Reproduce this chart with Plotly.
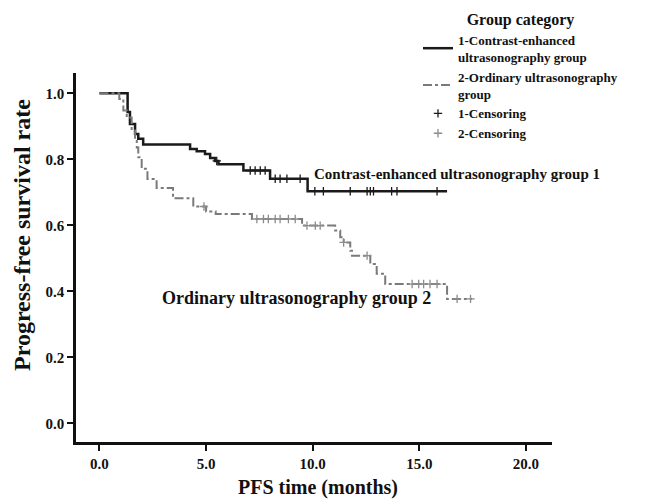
import numpy as np
import plotly.graph_objects as go

# ---- data ----
times1 = [0, 1.32, 1.43, 1.67, 1.82, 2.05, 4.25, 4.56, 4.95, 5.19, 5.42, 5.58, 6.75, 8.0, 9.76]
surv1 = [1.0, 0.943, 0.907, 0.877, 0.862, 0.845, 0.831, 0.824, 0.816, 0.804, 0.795, 0.785, 0.766, 0.741, 0.703]
end1 = 16.3
censor1 = [5.5, 7.07, 7.3, 7.54, 7.77, 8.24, 8.47, 8.79, 9.41, 10.1, 10.5, 11.76, 12.55, 12.7,
           12.85, 13.7, 13.95, 15.83]

times2 = [0, 0.93, 1.12, 1.28, 1.51, 1.67, 1.75, 1.82, 1.98, 2.25, 2.68, 3.45, 4.4, 5.0, 5.45,
          7.15, 9.5, 11.05, 11.29, 11.45, 11.76, 11.84, 12.7, 13.0, 13.4, 16.3]
surv2 = [1.0, 0.983, 0.948, 0.927, 0.887, 0.862, 0.836, 0.806, 0.771, 0.740, 0.713, 0.682, 0.657,
         0.642, 0.634, 0.619, 0.599, 0.584, 0.564, 0.548, 0.523, 0.508, 0.483, 0.453, 0.422, 0.377]
end2 = 17.47
censor2 = [4.9, 7.38, 7.69, 7.92, 8.24, 8.47, 8.86, 9.18, 9.73, 10.12, 10.35, 11.45, 12.55,
           14.66, 14.97, 15.2, 15.5, 15.83, 16.77, 17.4]

x_ticks = [0, 5, 10, 15, 20]
x_ticklabels = ["0.0", "5.0", "10.0", "15.0", "20.0"]
y_ticks = [0, 0.2, 0.4, 0.6, 0.8, 1.0]
y_ticklabels = ["0.0", "0.2", "0.4", "0.6", "0.8", "1.0"]

names = ["1-Contrast-enhanced<br>ultrasonography group",
         "2-Ordinary ultrasonography<br>group",
         "1-Censoring", "2-Censoring"]
labels = ["Contrast-enhanced ultrasonography group 1", "Ordinary ultrasonography group 2"]


def step_value(times, surv, t):
    idx = np.searchsorted(np.array(times), np.array(t), side="right") - 1
    return list(np.array(surv)[idx])


FONT = "Liberation Serif, Times New Roman, serif"
C1 = "#1a1a1a"
C2 = "#7a7a7a"
C2c = "#8c8c8c"

fig = go.Figure()
fig.add_trace(go.Scatter(x=times1 + [end1], y=surv1 + [surv1[-1]], mode="lines",
                         line=dict(shape="hv", color=C1, width=2.5), name=names[0]))
fig.add_trace(go.Scatter(x=times2 + [end2], y=surv2 + [surv2[-1]], mode="lines",
                         line=dict(shape="hv", color=C2, width=2, dash="dashdot"), name=names[1]))
fig.add_trace(go.Scatter(x=censor1, y=step_value(times1, surv1, censor1), mode="markers",
                         marker=dict(symbol="cross-thin", size=6, line=dict(width=1.3, color=C1)),
                         name=names[2]))
fig.add_trace(go.Scatter(x=censor2, y=step_value(times2, surv2, censor2), mode="markers",
                         marker=dict(symbol="cross-thin", size=6, line=dict(width=1.3, color=C2c)),
                         name=names[3]))

fig.add_annotation(x=9.98, y=0.755, xref="x", yref="y", text="<b>" + labels[0] + "</b>",
                   showarrow=False, xanchor="left", yanchor="middle",
                   font=dict(family=FONT, size=15, color="#111"))
fig.add_annotation(x=2.84, y=0.38, xref="x", yref="y", text="<b>" + labels[1] + "</b>",
                   showarrow=False, xanchor="left", yanchor="middle",
                   font=dict(family=FONT, size=18, color="#111"))

# page offset (html body margin) in pixels
OFF = 8
# axis titles (positions given in page pixels)
fig.add_annotation(x=318, y=487, xref="paper", yref="paper", text="<b>PFS time (months)</b>",
                   showarrow=False, xanchor="center", yanchor="middle",
                   font=dict(family=FONT, size=20, color="#111"))
fig.add_annotation(x=22, y=235, xref="paper", yref="paper", text="<b>Progress-free survival rate</b>",
                   showarrow=False, textangle=-90, xanchor="center", yanchor="middle",
                   font=dict(family=FONT, size=24, color="#111"))

W, H = 660 - OFF, 499 - OFF
L, T = 76 - OFF, 73 - OFF
pw, ph = 476, 369
R, B = W - L - pw, H - T - ph
for a in fig.layout.annotations[2:]:
    a.x = (a.x - OFF - L) / pw
    a.y = (H - (a.y - OFF) - B) / ph

axis_common = dict(showline=True, linecolor="#111", linewidth=2.5, ticks="outside",
                   ticklen=6, tickwidth=2, tickcolor="#111", showgrid=False, zeroline=False,
                   tickfont=dict(family=FONT, size=15, color="#111", weight="bold"))

fig.update_xaxes(range=[-1.10, 21.22], tickvals=x_ticks, ticktext=x_ticklabels, **axis_common)
fig.update_yaxes(range=[-0.0567, 1.0615], tickvals=y_ticks, ticktext=y_ticklabels, **axis_common)

fig.update_layout(
    width=W, height=H,
    margin=dict(l=L, r=R, t=T, b=B, autoexpand=False),
    plot_bgcolor="white", paper_bgcolor="white",
    showlegend=True,
    legend=dict(x=(418 - OFF - L) / pw, y=(H - (4 - OFF) - B) / ph, xanchor="left", yanchor="top",
                xref="paper", yref="paper",
                title=dict(text="<b>Group category</b>", side="top center",
                           font=dict(family=FONT, size=16, color="#111")),
                font=dict(family=FONT, size=13, color="#111", weight="bold"),
                bgcolor="rgba(0,0,0,0)", tracegroupgap=0, itemwidth=30),
)

fig.write_html("out.html")
